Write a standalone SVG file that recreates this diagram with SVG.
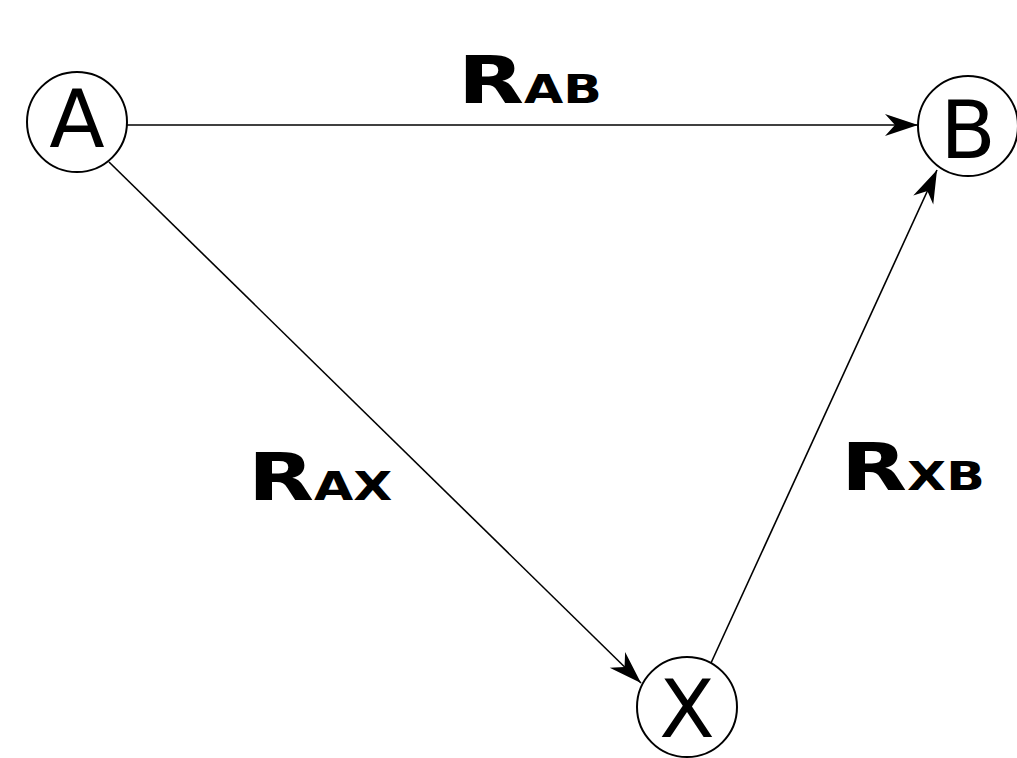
<svg xmlns="http://www.w3.org/2000/svg" width="1017" height="758" viewBox="0 0 1017 758">
<style>
.node circle{fill:#fff;stroke:#000;stroke-width:2}
.node text{font-family:"DejaVu Sans",sans-serif;font-size:81px;text-anchor:middle;fill:#000}
.conn line{stroke:#000;stroke-width:1.6}
.lbl{font-family:"DejaVu Sans",sans-serif;font-weight:bold;fill:#000}
.big{font-size:66px}
.sub{font-size:39px}
</style>
<defs>
<marker id="arr" markerUnits="userSpaceOnUse" markerWidth="40" markerHeight="30" refX="0" refY="0" viewBox="-35 -15 40 30" orient="auto">
<path d="M0,0 L-33,-11 L-23,0 L-33,11 Z" fill="#000"/>
</marker>
</defs>
<rect width="1017" height="758" fill="#fff"/>
<g id="connectors" class="conn">
<line x1="127" y1="125" x2="918" y2="125" marker-end="url(#arr)"/>
<line x1="109" y1="162" x2="641" y2="683" marker-end="url(#arr)"/>
<line x1="711" y1="663" x2="937" y2="170" marker-end="url(#arr)"/>
</g>
<g id="nodeA" class="node"><circle cx="77" cy="122" r="50"/><text x="77" y="147">A</text></g>
<g id="nodeB" class="node"><circle cx="968" cy="126" r="50"/><text x="968" y="158">B</text></g>
<g id="nodeX" class="node"><circle cx="687" cy="707" r="50"/><text x="687" y="737">X</text></g>
<g id="labelAB"><text class="lbl" transform="translate(458,103) scale(1.3,1)"><tspan class="big">R</tspan><tspan class="sub">AB</tspan></text></g>
<g id="labelAX"><text class="lbl" transform="translate(248,500) scale(1.3,1)"><tspan class="big">R</tspan><tspan class="sub">AX</tspan></text></g>
<g id="labelXB"><text class="lbl" transform="translate(841,490) scale(1.3,1)"><tspan class="big">R</tspan><tspan class="sub">XB</tspan></text></g>
</svg>
